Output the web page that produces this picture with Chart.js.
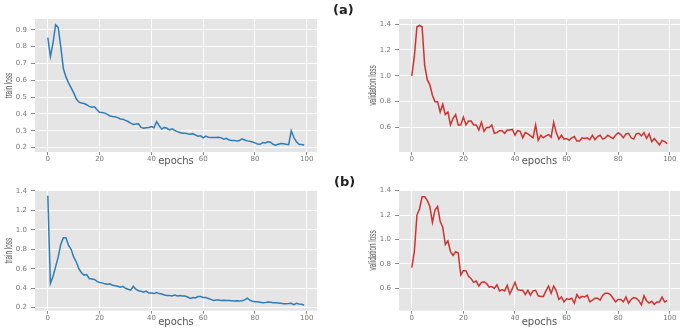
<!DOCTYPE html>
<html>
<head>
<meta charset="utf-8">
<script src="https://cdn.jsdelivr.net/npm/chart.js@4.4.0/dist/chart.umd.min.js"></script>
<style>
  body { margin: 0; background: #fff; width: 685px; height: 328px; position: relative; overflow: hidden; }
  canvas { position: absolute; }
  .tag { position: absolute; font: bold 13px 'DejaVu Sans', sans-serif; color: #222; }
</style>
</head>
<body>
<canvas id="aTrain" width="330" height="168" style="left:0;top:0"></canvas>
<canvas id="aVal" width="340" height="168" style="left:345px;top:0"></canvas>
<canvas id="bTrain" width="330" height="160" style="left:0;top:168px"></canvas>
<canvas id="bVal" width="340" height="160" style="left:345px;top:168px"></canvas>
<div class="tag" style="left:333px;top:2px">(a)</div>
<div class="tag" style="left:334px;top:174px">(b)</div>
<script>
var epochs = [];
for (var i = 0; i < 100; i++) epochs.push(i);

var xTicks = [0, 20, 40, 60, 80, 100];
var yTicksTrainA = [0.2, 0.3, 0.4, 0.5, 0.6, 0.7, 0.8, 0.9];
var yTicksLoss = [0.6, 0.8, 1.0, 1.2, 1.4];
var yTicksTrainB = [0.2, 0.4, 0.6, 0.8, 1.0, 1.2, 1.4];

var trainLossA = [
  0.853, 0.74, 0.82, 0.93, 0.915, 0.80, 0.67, 0.62, 0.585, 0.555,
  0.525, 0.49, 0.47, 0.465, 0.462, 0.455, 0.445, 0.44, 0.443, 0.425,
  0.41, 0.408, 0.405, 0.398, 0.388, 0.385, 0.383, 0.378, 0.37, 0.368,
  0.362, 0.355, 0.345, 0.338, 0.34, 0.342, 0.32, 0.315, 0.318, 0.32,
  0.325, 0.318, 0.355, 0.33, 0.31, 0.32, 0.315, 0.305, 0.312, 0.302,
  0.295, 0.29, 0.285, 0.285, 0.282, 0.28, 0.283, 0.275, 0.268, 0.27,
  0.258, 0.268, 0.262, 0.26, 0.26, 0.26, 0.262, 0.258, 0.25, 0.255,
  0.245, 0.242, 0.243, 0.24, 0.242, 0.252, 0.245, 0.24, 0.238, 0.233,
  0.228, 0.222, 0.22, 0.23, 0.228, 0.235, 0.232, 0.22, 0.215, 0.22,
  0.225, 0.223, 0.22, 0.218, 0.30, 0.26, 0.235, 0.22, 0.218, 0.215
];

var valLossA = [
  1.0, 1.15, 1.38, 1.39, 1.38, 1.08, 0.97, 0.93, 0.85, 0.80,
  0.80, 0.72, 0.78, 0.70, 0.72, 0.62, 0.67, 0.70, 0.62, 0.62,
  0.68, 0.62, 0.65, 0.65, 0.62, 0.62, 0.58, 0.64, 0.57, 0.60,
  0.60, 0.62, 0.555, 0.56, 0.575, 0.575, 0.555, 0.58, 0.58, 0.585,
  0.54, 0.575, 0.57, 0.52, 0.56, 0.55, 0.535, 0.52, 0.62, 0.50,
  0.54, 0.52, 0.535, 0.545, 0.525, 0.64, 0.56, 0.51, 0.54, 0.51,
  0.515, 0.50, 0.52, 0.53, 0.495, 0.495, 0.52, 0.515, 0.52, 0.505,
  0.54, 0.505, 0.53, 0.54, 0.51, 0.52, 0.54, 0.525, 0.515, 0.54,
  0.56, 0.545, 0.52, 0.55, 0.555, 0.52, 0.51, 0.55, 0.555, 0.535,
  0.56, 0.515, 0.55, 0.49, 0.515, 0.49, 0.465, 0.50, 0.49, 0.475
];

var trainLossB = [
  1.35, 0.45, 0.52, 0.62, 0.72, 0.85, 0.92, 0.92, 0.84, 0.80,
  0.72, 0.67, 0.60, 0.56, 0.535, 0.54, 0.50, 0.495, 0.49, 0.47,
  0.46, 0.455, 0.445, 0.44, 0.445, 0.43, 0.425, 0.42, 0.41, 0.42,
  0.40, 0.39, 0.38, 0.42, 0.39, 0.375, 0.37, 0.36, 0.37, 0.35,
  0.35, 0.345, 0.355, 0.345, 0.34, 0.33, 0.325, 0.325, 0.32, 0.33,
  0.32, 0.325, 0.32, 0.32, 0.31, 0.295, 0.305, 0.30, 0.315, 0.315,
  0.305, 0.305, 0.295, 0.285, 0.275, 0.28, 0.278, 0.275, 0.276, 0.275,
  0.275, 0.272, 0.268, 0.272, 0.268, 0.272, 0.28, 0.297, 0.278, 0.266,
  0.262, 0.26, 0.256, 0.25, 0.252, 0.258, 0.255, 0.252, 0.25, 0.248,
  0.245, 0.24, 0.24, 0.242, 0.245, 0.232, 0.245, 0.238, 0.235, 0.228
];

var valLossB = [
  0.77, 0.90, 1.20, 1.25, 1.35, 1.35, 1.32, 1.27, 1.14, 1.24,
  1.27, 1.15, 1.10, 0.96, 0.99, 0.90, 0.87, 0.90, 0.89, 0.71,
  0.745, 0.745, 0.70, 0.68, 0.65, 0.66, 0.62, 0.65, 0.655, 0.64,
  0.61, 0.615, 0.60, 0.63, 0.58, 0.59, 0.58, 0.625, 0.555, 0.60,
  0.65, 0.59, 0.585, 0.585, 0.55, 0.585, 0.545, 0.58, 0.585, 0.54,
  0.535, 0.535, 0.58, 0.62, 0.56, 0.62, 0.58, 0.51, 0.53, 0.49,
  0.515, 0.51, 0.52, 0.48, 0.55, 0.52, 0.535, 0.53, 0.545, 0.49,
  0.505, 0.52, 0.52, 0.505, 0.545, 0.56, 0.56, 0.55, 0.52, 0.49,
  0.51, 0.51, 0.49, 0.53, 0.48, 0.51, 0.525, 0.52, 0.50, 0.465,
  0.54, 0.50, 0.48, 0.495, 0.47, 0.49, 0.49, 0.53, 0.49, 0.50
];

var bgPlugin = {
  id: 'panelBg',
  beforeDraw: function (chart) {
    var a = chart.chartArea, c = chart.ctx;
    c.save();
    c.fillStyle = '#e5e5e5';
    c.fillRect(a.left, a.top, a.right - a.left, a.bottom - a.top);
    c.restore();
  }
};

// condensed, rotated y axis label like the original figure
var yTitlePlugin = {
  id: 'yTitle',
  afterDraw: function (chart, args, opts) {
    var a = chart.chartArea, c = chart.ctx;
    c.save();
    c.translate(opts.x, (a.top + a.bottom) / 2);
    c.rotate(-Math.PI / 2);
    c.scale(0.64, 1);
    c.font = '10px "Liberation Sans", sans-serif';
    c.fillStyle = '#555';
    c.textAlign = 'center';
    c.textBaseline = 'middle';
    c.fillText(opts.text, 0, 0);
    c.restore();
  }
};

var tickFont = { size: 7, family: "'DejaVu Sans', sans-serif" };

function lossChart(id, vals, color, yTitle, yTicks, yMin, yMax, box) {
  return new Chart(document.getElementById(id), {
    type: 'line',
    data: {
      datasets: [{
        data: epochs.map(function (e, i) { return { x: e, y: vals[i] }; }),
        borderColor: color,
        borderWidth: 1.5,
        pointRadius: 0,
        tension: 0,
        fill: false
      }]
    },
    options: {
      responsive: false,
      animation: false,
      devicePixelRatio: 1,
      layout: { padding: { top: box.top, right: box.right, left: 0, bottom: 0 } },
      plugins: {
        legend: { display: false },
        tooltip: { enabled: false },
        yTitle: { text: yTitle, x: box.tx }
      },
      scales: {
        x: {
          type: 'linear', min: -4.95, max: 103.95,
          afterBuildTicks: function (s) { s.ticks = xTicks.map(function (v) { return { value: v }; }); },
          afterFit: function (s) { s.height = box.xh; },
          grid: { color: '#ffffff', lineWidth: 1, tickLength: 3, tickColor: '#888' },
          border: { display: false },
          ticks: { color: '#777', font: tickFont, padding: 0, maxRotation: 0 },
          title: { display: true, text: 'epochs', color: '#555', font: { size: 10, family: "'DejaVu Sans', sans-serif" }, padding: { top: 0, bottom: box.tb } }
        },
        y: {
          min: yMin, max: yMax,
          afterBuildTicks: function (s) { s.ticks = yTicks.map(function (v) { return { value: v }; }); },
          afterFit: function (s) { s.width = box.yw; },
          grid: { color: '#ffffff', lineWidth: 1, tickLength: 4, tickColor: '#888' },
          border: { display: false },
          ticks: { color: '#777', font: tickFont, padding: 4, callback: function (v) { return v.toFixed(1); } },
          title: { display: false }
        }
      }
    },
    plugins: [bgPlugin, yTitlePlugin]
  });
}

lossChart('aTrain', trainLossA, '#2f7db6', 'train loss', yTicksTrainA, 0.174, 0.964,
  { top: 19, right: 13, xh: 16, yw: 35, tb: 1, tx: 9 });
lossChart('aVal', valLossA, '#d0322e', 'validation loss', yTicksLoss, 0.41, 1.44,
  { top: 19, right: 5, xh: 16, yw: 54, tb: 1, tx: 28 });
lossChart('bTrain', trainLossB, '#2f7db6', 'train loss', yTicksTrainB, 0.169, 1.405,
  { top: 22.5, right: 13, xh: 17.3, yw: 35, tb: 0, tx: 9 });
lossChart('bVal', valLossB, '#d0322e', 'validation loss', yTicksLoss, 0.418, 1.405,
  { top: 22, right: 5, xh: 17.3, yw: 54, tb: 0, tx: 28 });
</script>
</body>
</html>
